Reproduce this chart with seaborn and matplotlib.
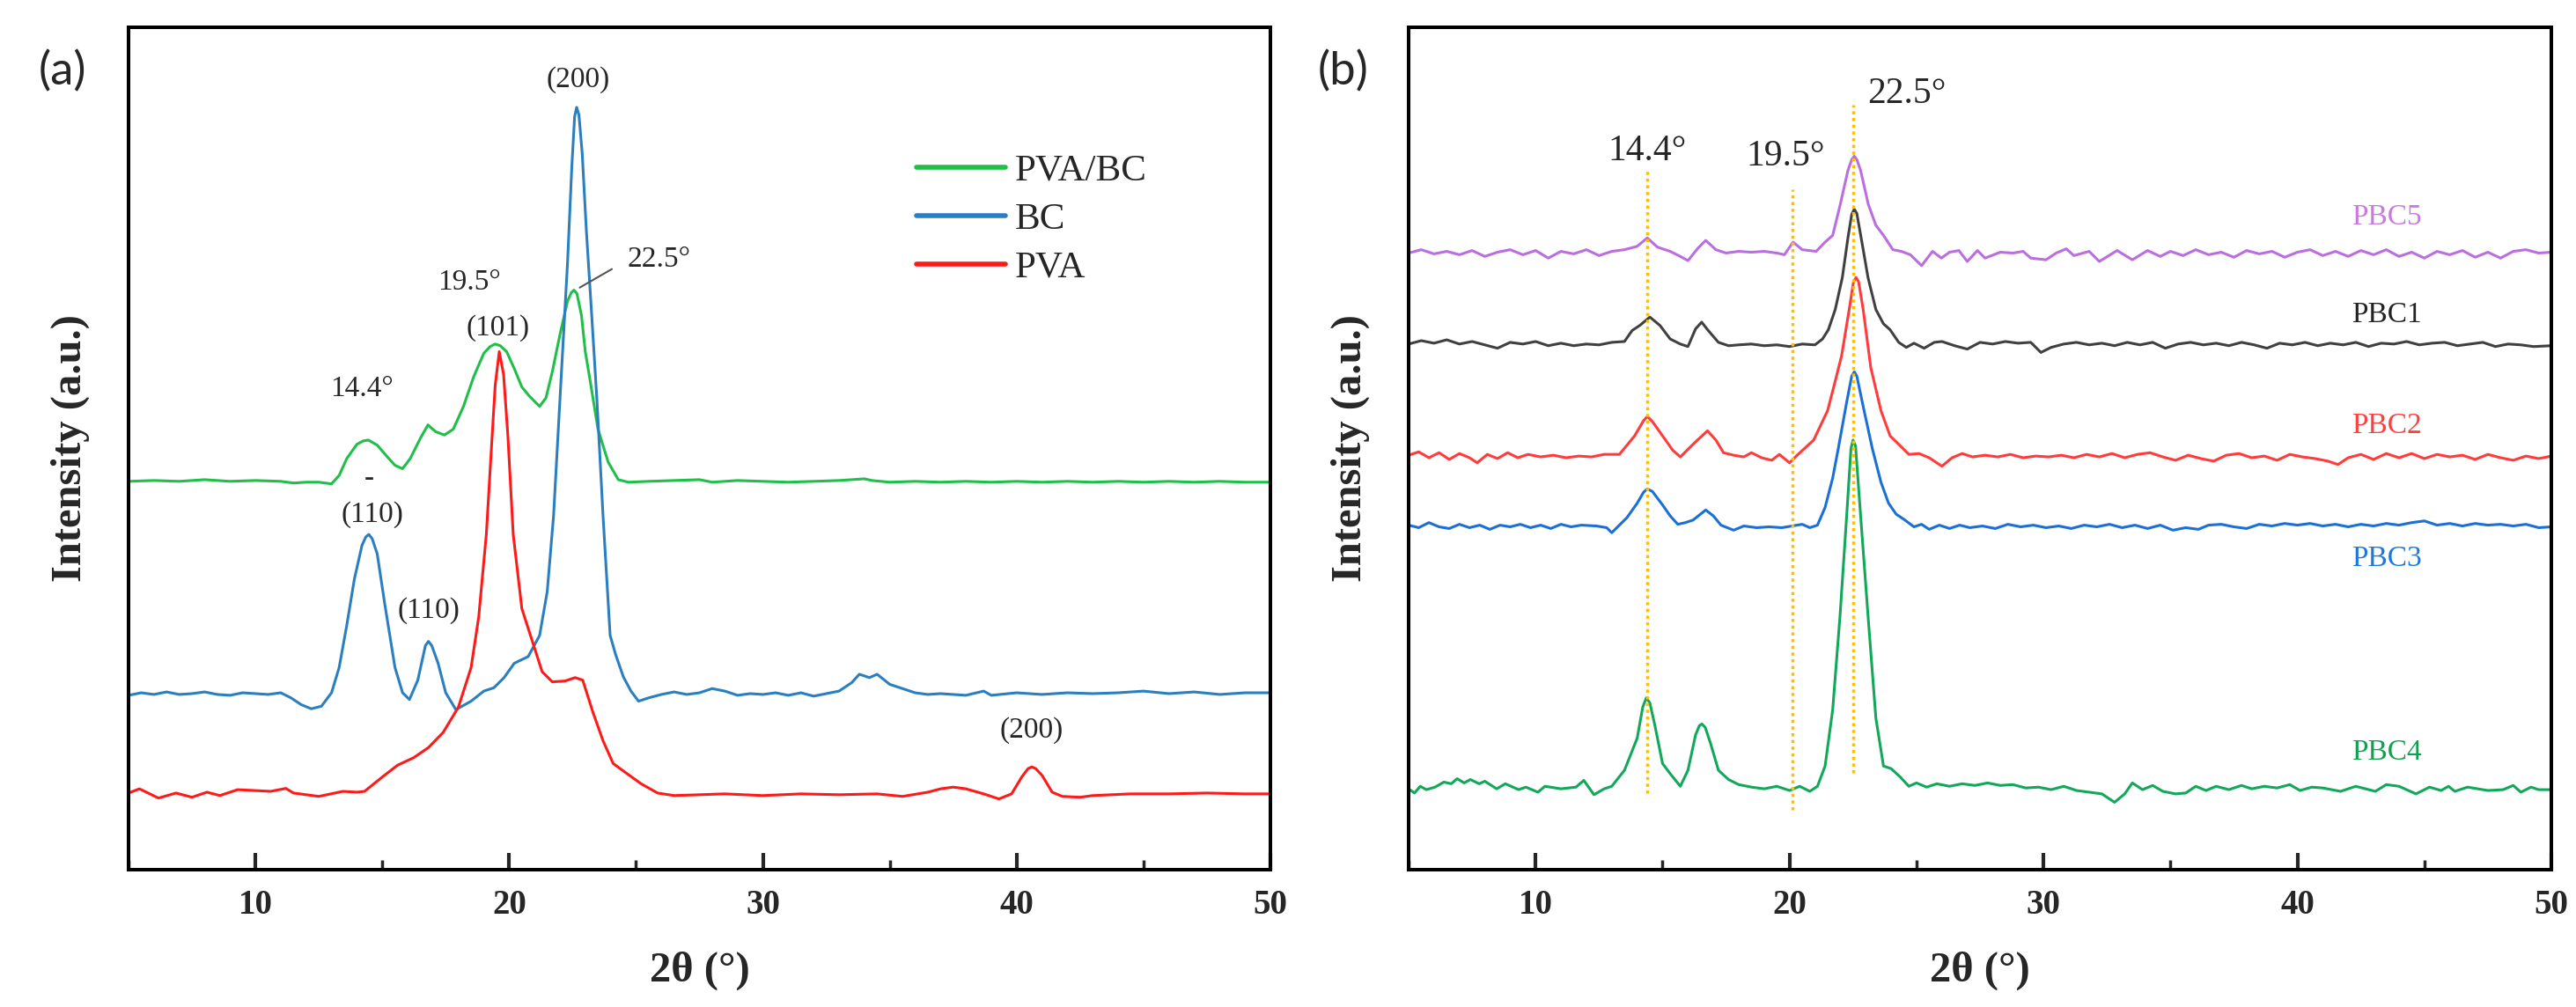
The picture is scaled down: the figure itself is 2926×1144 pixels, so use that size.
import numpy as np
import pandas as pd
import seaborn as sns
import matplotlib.pyplot as plt
from matplotlib.ticker import MultipleLocator

# ---- panel (a) curves: (2theta, intensity in axis units 0-100) ----
pva_bc = [(5.0, 46.1), (6.0, 46.2), (7.0, 46.1), (8.0, 46.3), (8.5, 46.2), (9.0, 46.1),
          (10.0, 46.2), (11.0, 46.1), (11.5, 45.9), (12.0, 46.0), (12.5, 46.0), (13.0, 45.8),
          (13.3, 46.8), (13.6, 48.8), (14.0, 50.5), (14.25, 50.9), (14.45, 51.0), (14.8, 50.4),
          (15.2, 49.0), (15.5, 48.0), (15.8, 47.6), (16.1, 48.8), (16.5, 51.2), (16.8, 52.8),
          (17.1, 52.0), (17.45, 51.6), (17.8, 52.3), (18.2, 55.0), (18.6, 58.5), (19.0, 61.3),
          (19.25, 62.1), (19.45, 62.4), (19.65, 62.2), (19.9, 61.5), (20.2, 59.5), (20.5, 57.3),
          (20.8, 56.2), (21.2, 55.0), (21.45, 56.0), (21.7, 59.1), (22.0, 63.5), (22.3, 67.5),
          (22.45, 68.5), (22.55, 68.8), (22.67, 68.4), (22.85, 65.8), (23.0, 61.5), (23.2, 57.9),
          (23.5, 52.3), (23.9, 48.4), (24.3, 46.3), (24.7, 46.0), (25.5, 46.1), (26.5, 46.2),
          (27.5, 46.3), (28.0, 46.0), (29.0, 46.2), (30.0, 46.1), (31.0, 46.0), (32.0, 46.1),
          (33.0, 46.2), (34.0, 46.4), (34.3, 46.2), (35.0, 46.0), (36.0, 46.1), (37.0, 46.0),
          (38.0, 46.1), (39.0, 46.0), (40.0, 46.1), (41.0, 46.0), (42.0, 46.1), (43.0, 46.0),
          (44.0, 46.1), (45.0, 46.0), (46.0, 46.1), (47.0, 46.0), (48.0, 46.1), (49.0, 46.0),
          (50.0, 46.0)]

bc = [(5.0, 20.7), (5.5, 21.0), (6.0, 20.8), (6.5, 21.1), (7.0, 20.8), (7.5, 20.9), (8.0, 21.1),
      (8.5, 20.8), (9.0, 20.7), (9.5, 21.0), (10.0, 20.9), (10.5, 20.8), (11.0, 21.0),
      (11.4, 20.4), (11.8, 19.6), (12.2, 19.1), (12.6, 19.4), (13.0, 21.0), (13.3, 24.0),
      (13.6, 29.0), (13.9, 34.5), (14.2, 38.5), (14.35, 39.5), (14.47, 39.8), (14.6, 39.3),
      (14.8, 37.5), (15.1, 31.5), (15.5, 24.0), (15.8, 21.0), (16.07, 20.2), (16.4, 22.5),
      (16.7, 26.6), (16.82, 27.1), (16.95, 26.6), (17.2, 24.5), (17.5, 21.0), (17.9, 19.0),
      (18.5, 20.0), (19.0, 21.2), (19.4, 21.6), (19.8, 22.8), (20.2, 24.5), (20.75, 25.3),
      (21.2, 27.8), (21.5, 33.0), (21.75, 42.0), (22.04, 57.9), (22.3, 72.0), (22.47, 83.5),
      (22.58, 89.4), (22.66, 90.5), (22.75, 89.6), (22.88, 85.0), (23.04, 76.0), (23.25, 66.0),
      (23.46, 55.7), (23.7, 42.0), (23.98, 27.8), (24.2, 25.5), (24.5, 22.9), (24.8, 21.2),
      (25.1, 20.0), (25.5, 20.4), (26.0, 20.8), (26.5, 21.1), (27.0, 20.8), (27.5, 21.0),
      (28.0, 21.5), (28.5, 21.2), (29.0, 20.7), (29.5, 20.9), (30.0, 20.8), (30.5, 21.0),
      (31.0, 20.7), (31.5, 21.0), (32.0, 20.6), (32.5, 20.9), (33.0, 21.2), (33.5, 22.2),
      (33.8, 23.2), (34.2, 22.8), (34.5, 23.2), (35.0, 22.0), (35.5, 21.5), (36.0, 21.0),
      (36.5, 20.8), (37.0, 20.9), (38.0, 20.7), (38.7, 21.2), (39.0, 20.7), (40.0, 21.0),
      (41.0, 20.8), (42.0, 21.0), (43.0, 20.9), (44.0, 21.0), (45.0, 21.2), (46.0, 20.9),
      (47.0, 21.1), (48.0, 20.8), (49.0, 21.0), (50.0, 21.0)]

pva = [(5.0, 9.1), (5.43, 9.6), (6.18, 8.5), (6.87, 9.1), (7.5, 8.6), (8.09, 9.2), (8.6, 8.8),
       (9.3, 9.5), (10.6, 9.3), (11.2, 9.65), (11.5, 9.1), (12.5, 8.7), (13.45, 9.3),
       (14.0, 9.2), (14.3, 9.3), (15.0, 11.0), (15.6, 12.4), (16.24, 13.3), (16.82, 14.5),
       (17.4, 16.3), (18.0, 19.3), (18.5, 24.0), (18.8, 30.0), (19.1, 39.8), (19.3, 50.0),
       (19.45, 57.5), (19.61, 61.5), (19.78, 58.8), (19.95, 51.5), (20.16, 39.8), (20.5, 31.0),
       (20.98, 26.5), (21.3, 23.5), (21.7, 22.3), (22.2, 22.4), (22.6, 22.8), (22.9, 22.5),
       (23.3, 18.7), (23.7, 15.3), (24.1, 12.6), (24.6, 11.5), (25.2, 10.2), (25.85, 9.1),
       (26.5, 8.8), (27.5, 8.9), (28.5, 9.0), (30.0, 8.8), (31.5, 9.0), (33.0, 8.9),
       (34.5, 9.0), (35.5, 8.7), (36.5, 9.2), (37.0, 9.6), (37.5, 9.8), (38.0, 9.6),
       (38.7, 9.0), (39.3, 8.4), (39.8, 9.0), (40.2, 11.0), (40.45, 12.0), (40.6, 12.2),
       (40.75, 12.0), (41.0, 11.2), (41.4, 9.2), (41.8, 8.7), (42.5, 8.6), (43.0, 8.8),
       (44.5, 9.0), (46.0, 9.0), (47.5, 9.1), (49.0, 9.0), (50.0, 9.0)]

# ---- panel (b) curves ----
pbc5 = [(5.0, 73.2), (5.5, 73.6), (6.0, 73.1), (6.5, 73.4), (7.0, 73.0), (7.5, 73.5), (8.0, 72.8),
        (8.5, 73.3), (9.0, 73.6), (9.5, 73.0), (10.0, 73.5), (10.5, 72.6), (11.0, 73.4),
        (11.5, 73.1), (12.0, 73.6), (12.5, 72.9), (13.0, 73.4), (13.5, 73.6), (14.0, 74.0),
        (14.4, 75.0), (14.8, 73.9), (15.3, 73.4), (15.7, 72.8), (16.0, 72.3), (16.4, 73.8),
        (16.7, 74.7), (17.1, 73.6), (17.5, 73.2), (18.0, 73.4), (18.5, 73.3), (19.0, 73.4),
        (19.5, 73.2), (19.8, 73.0), (20.14, 74.5), (20.5, 73.6), (21.05, 73.4), (21.4, 74.5),
        (21.7, 75.3), (22.0, 79.0), (22.3, 83.0), (22.45, 84.3), (22.55, 84.7), (22.65, 84.3),
        (22.8, 83.0), (23.1, 79.0), (23.4, 76.5), (23.7, 75.3), (24.07, 73.6), (24.4, 73.4),
        (24.76, 73.0), (25.2, 71.7), (25.63, 73.4), (25.98, 72.6), (26.3, 73.3), (26.67, 73.5),
        (27.0, 72.2), (27.4, 73.5), (27.7, 72.6), (28.3, 73.3), (28.8, 73.2), (29.2, 73.4),
        (29.5, 72.6), (30.1, 72.4), (30.5, 73.2), (30.9, 73.7), (31.2, 72.9), (31.8, 73.4),
        (32.2, 72.2), (32.9, 73.5), (33.5, 72.4), (34.1, 73.5), (34.6, 72.8), (35.0, 73.4),
        (35.5, 72.9), (36.0, 73.6), (36.5, 73.0), (37.0, 73.3), (37.5, 72.7), (38.0, 73.5),
        (38.5, 73.1), (39.0, 73.4), (39.5, 72.7), (40.0, 73.3), (40.5, 73.6), (41.0, 72.9),
        (41.5, 73.4), (42.0, 72.8), (42.5, 73.5), (43.0, 73.0), (43.5, 73.6), (44.0, 72.8),
        (44.5, 73.3), (45.0, 72.6), (45.5, 73.4), (46.0, 73.0), (46.5, 73.5), (47.0, 72.7),
        (47.5, 73.3), (48.0, 72.6), (48.5, 73.4), (49.0, 73.6), (49.5, 73.2), (50.0, 73.3)]

pbc1 = [(5.0, 62.4), (5.5, 62.8), (6.0, 62.5), (6.5, 62.9), (7.0, 62.4), (7.5, 62.7), (8.0, 62.3),
        (8.5, 61.9), (9.0, 62.6), (9.5, 62.4), (10.0, 62.7), (10.5, 62.2), (11.0, 62.5),
        (11.5, 62.2), (12.0, 62.4), (12.5, 62.3), (13.0, 62.6), (13.5, 62.7), (13.8, 64.0),
        (14.1, 64.6), (14.5, 65.6), (14.9, 64.6), (15.3, 63.0), (15.7, 62.4), (16.0, 62.1),
        (16.3, 64.2), (16.54, 65.0), (16.8, 64.0), (17.2, 62.6), (17.6, 62.2), (18.0, 62.3),
        (18.5, 62.4), (19.0, 62.2), (19.5, 62.3), (20.0, 62.1), (20.5, 62.4), (21.0, 62.3),
        (21.3, 63.0), (21.53, 64.1), (21.8, 66.5), (22.08, 70.3), (22.3, 75.0), (22.45, 77.8),
        (22.55, 78.4), (22.65, 77.9), (22.85, 74.5), (23.09, 70.3), (23.4, 66.5), (23.7, 64.8),
        (23.96, 64.1), (24.3, 62.6), (24.6, 62.0), (24.9, 62.5), (25.3, 61.9), (25.7, 62.6),
        (26.0, 62.7), (26.5, 62.2), (27.0, 61.8), (27.5, 62.6), (28.0, 62.4), (28.5, 62.7),
        (29.0, 62.5), (29.5, 62.6), (29.9, 61.4), (30.3, 62.0), (30.8, 62.4), (31.3, 62.6),
        (31.8, 62.3), (32.3, 62.5), (32.8, 62.2), (33.3, 62.6), (33.8, 62.3), (34.3, 62.6),
        (34.8, 61.9), (35.3, 62.4), (35.8, 62.6), (36.3, 62.3), (36.8, 62.5), (37.3, 62.2),
        (37.8, 62.6), (38.3, 62.3), (38.8, 61.9), (39.3, 62.5), (39.8, 62.3), (40.3, 62.6),
        (40.8, 62.2), (41.3, 62.5), (41.8, 62.3), (42.3, 62.6), (42.8, 62.1), (43.3, 62.5),
        (43.8, 62.4), (44.3, 62.7), (44.8, 62.3), (45.3, 62.5), (45.8, 62.6), (46.3, 62.2),
        (46.8, 62.4), (47.3, 62.6), (47.8, 62.1), (48.3, 62.4), (48.8, 62.3), (49.3, 62.1),
        (50.0, 62.2)]

pbc2 = [(5.0, 49.2), (5.4, 49.6), (5.8, 48.9), (6.2, 49.5), (6.6, 48.7), (7.0, 49.4), (7.4, 48.9),
        (7.7, 48.3), (8.1, 49.3), (8.5, 48.8), (8.9, 49.5), (9.3, 48.9), (9.7, 49.3), (10.2, 49.0),
        (10.7, 49.2), (11.2, 48.9), (11.7, 49.1), (12.2, 49.0), (12.7, 49.3), (13.3, 49.3),
        (13.9, 51.5), (14.25, 53.3), (14.4, 53.8), (14.6, 53.2), (15.0, 51.5), (15.4, 49.8),
        (15.7, 49.0), (16.2, 50.5), (16.77, 52.1), (17.1, 51.0), (17.4, 49.5), (17.8, 49.2),
        (18.2, 49.0), (18.5, 49.5), (18.9, 48.9), (19.3, 48.6), (19.6, 49.3), (20.0, 48.3),
        (20.3, 49.2), (20.95, 51.0), (21.5, 54.5), (21.8, 58.0), (22.05, 61.0), (22.35, 66.5),
        (22.52, 69.8), (22.62, 70.3), (22.72, 69.8), (22.9, 66.5), (23.2, 59.6), (23.6, 54.5),
        (23.96, 51.5), (24.3, 50.5), (24.7, 49.3), (25.1, 49.4), (25.5, 48.9), (26.0, 47.9),
        (26.4, 48.9), (26.8, 49.4), (27.2, 49.0), (27.7, 49.2), (28.2, 49.0), (28.7, 49.3),
        (29.2, 48.9), (29.7, 49.1), (30.2, 49.0), (30.7, 49.2), (31.2, 48.9), (31.7, 49.3),
        (32.2, 49.0), (32.7, 49.4), (33.2, 48.9), (33.7, 49.3), (34.2, 49.5), (34.7, 49.0),
        (35.2, 48.6), (35.7, 49.2), (36.2, 48.8), (36.7, 48.5), (37.2, 49.2), (37.7, 49.4),
        (38.2, 48.9), (38.7, 49.1), (39.2, 48.6), (39.7, 49.3), (40.2, 49.0), (40.7, 48.8),
        (41.2, 48.5), (41.6, 48.1), (42.0, 48.9), (42.5, 49.3), (43.0, 48.7), (43.5, 49.4),
        (44.0, 48.9), (44.5, 49.4), (45.0, 48.8), (45.5, 49.3), (46.0, 49.0), (46.5, 49.2),
        (47.0, 48.7), (47.5, 49.3), (48.0, 48.9), (48.5, 48.6), (49.0, 49.1), (49.5, 48.8),
        (50.0, 49.1)]

pbc3 = [(5.0, 40.9), (5.4, 40.6), (5.8, 41.2), (6.2, 40.7), (6.6, 40.5), (7.0, 41.0), (7.4, 40.6),
        (7.8, 40.9), (8.2, 40.4), (8.6, 40.9), (9.0, 40.7), (9.4, 41.0), (9.8, 40.6), (10.2, 40.9),
        (10.6, 40.5), (11.0, 41.0), (11.4, 40.7), (11.8, 40.9), (12.4, 40.8), (12.8, 40.6),
        (13.0, 40.0), (13.3, 40.9), (13.6, 41.8), (14.0, 43.5), (14.25, 44.8), (14.4, 45.2),
        (14.6, 44.9), (15.0, 43.3), (15.3, 42.0), (15.6, 41.0), (15.9, 41.2), (16.2, 41.5),
        (16.7, 42.7), (17.0, 42.0), (17.3, 40.9), (17.8, 40.3), (18.2, 40.8), (18.7, 40.6),
        (19.2, 40.7), (19.7, 40.6), (20.1, 40.8), (20.5, 41.0), (20.8, 40.6), (21.1, 40.9),
        (21.4, 43.0), (21.7, 46.5), (21.92, 50.0), (22.25, 55.5), (22.45, 58.6), (22.55, 59.1),
        (22.65, 58.6), (22.9, 55.0), (23.26, 50.0), (23.6, 46.0), (23.9, 43.5), (24.2, 42.2),
        (24.5, 41.6), (24.9, 40.7), (25.2, 41.0), (25.5, 40.4), (25.9, 40.9), (26.3, 40.5),
        (26.7, 40.9), (27.1, 40.6), (27.6, 40.8), (28.1, 40.5), (28.6, 41.0), (29.1, 40.7),
        (29.6, 40.9), (30.1, 40.6), (30.6, 40.8), (31.1, 40.5), (31.6, 40.9), (32.1, 40.7),
        (32.6, 41.0), (33.1, 40.6), (33.6, 40.9), (34.1, 40.5), (34.6, 40.9), (35.1, 40.3),
        (35.6, 40.6), (36.1, 40.4), (36.5, 40.9), (37.0, 41.0), (37.5, 40.7), (38.0, 40.5),
        (38.5, 41.0), (39.0, 40.8), (39.5, 41.1), (40.0, 40.9), (40.5, 41.1), (41.0, 40.8),
        (41.5, 41.0), (42.0, 40.7), (42.5, 41.0), (43.0, 40.8), (43.5, 41.1), (44.0, 40.9),
        (44.5, 41.2), (45.0, 41.4), (45.5, 40.9), (46.0, 41.1), (46.5, 40.8), (47.0, 41.1),
        (47.5, 40.9), (48.0, 41.0), (48.5, 40.8), (49.0, 41.0), (49.5, 40.6), (50.0, 40.7)]

pbc4 = [(5.0, 9.6), (5.23, 9.1), (5.46, 9.9), (5.7, 9.5), (6.04, 9.8), (6.39, 10.4), (6.68, 10.2),
        (6.91, 10.8), (7.19, 10.3), (7.43, 10.7), (7.78, 10.2), (8.0, 10.5), (8.47, 9.6),
        (8.81, 10.2), (9.33, 9.5), (9.62, 9.8), (10.09, 9.2), (10.37, 9.9), (11.0, 9.6),
        (11.59, 9.8), (11.9, 10.6), (12.3, 8.9), (12.7, 9.6), (13.0, 9.9), (13.5, 11.8),
        (14.0, 15.6), (14.22, 19.3), (14.36, 20.4), (14.5, 19.8), (14.7, 17.1), (15.0, 12.6),
        (15.3, 11.4), (15.7, 9.9), (16.0, 11.8), (16.3, 16.0), (16.45, 17.1), (16.55, 17.3),
        (16.68, 16.9), (16.9, 14.9), (17.2, 11.8), (17.6, 10.7), (18.0, 10.1), (18.5, 9.8),
        (19.0, 9.6), (19.5, 9.9), (20.0, 9.4), (20.4, 9.9), (20.8, 9.3), (21.1, 9.9),
        (21.4, 12.3), (21.7, 19.0), (21.99, 30.2), (22.25, 42.0), (22.42, 50.0), (22.5, 51.0),
        (22.6, 50.3), (22.8, 42.0), (23.09, 30.2), (23.4, 18.0), (23.7, 12.3), (24.0, 12.0),
        (24.36, 11.0), (24.7, 9.9), (25.0, 10.3), (25.4, 9.8), (25.8, 10.2), (26.3, 9.9),
        (26.8, 10.2), (27.3, 10.0), (27.8, 10.3), (28.3, 10.0), (28.8, 10.1), (29.3, 9.7),
        (29.8, 9.8), (30.3, 9.5), (30.8, 9.9), (31.3, 9.4), (31.8, 9.2), (32.3, 9.0),
        (32.8, 8.0), (33.2, 9.0), (33.5, 10.3), (33.9, 9.5), (34.3, 10.0), (34.7, 9.3),
        (35.2, 9.0), (35.6, 9.1), (36.0, 9.9), (36.4, 9.4), (36.8, 9.9), (37.3, 9.5),
        (37.8, 10.0), (38.2, 9.6), (38.7, 9.9), (39.2, 9.7), (39.7, 10.1), (40.1, 9.4),
        (40.57, 9.8), (41.0, 9.7), (41.7, 9.3), (42.3, 9.9), (43.07, 9.3), (43.5, 10.1),
        (44.0, 9.9), (44.67, 9.0), (45.2, 9.8), (45.66, 9.4), (45.95, 9.9), (46.2, 9.3),
        (46.7, 9.8), (47.5, 9.4), (48.1, 9.5), (48.5, 10.0), (48.8, 9.2), (49.2, 9.8),
        (49.5, 9.5), (50.0, 9.5)]

# peak marker lines in (b): position, bottom, top
ref_x = [14.4, 20.1, 22.5]
ref_lo = [9.1, 7.1, 11.5]
ref_hi = [83.0, 80.8, 90.8]

sns.set_theme(style='ticks')
plt.rcParams['font.family'] = ['Liberation Serif', 'DejaVu Serif']

fig = plt.figure(figsize=(29.26, 11.44), dpi=100)
ax_a = fig.add_axes([146 / 2926, 156 / 1144, 1297 / 2926, 957 / 1144])
ax_b = fig.add_axes([1600 / 2926, 156 / 1144, 1298 / 2926, 957 / 1144])


def draw(ax, pts, color, label=None):
    df = pd.DataFrame(pts, columns=['two_theta', 'intensity'])
    sns.lineplot(data=df, x='two_theta', y='intensity', ax=ax, color=color,
                 lw=2.2, sort=False, estimator=None, label=label, legend=False,
                 solid_joinstyle='round')


draw(ax_a, pva_bc, '#1fbf4a', 'PVA/BC')
draw(ax_a, bc, '#2a7fc1', 'BC')
draw(ax_a, pva, '#ff1a1a', 'PVA')

draw(ax_b, pbc5, '#bb6ee0')
draw(ax_b, pbc1, '#404040')
draw(ax_b, pbc2, '#ff3b3b')
draw(ax_b, pbc3, '#1a6fd8')
draw(ax_b, pbc4, '#12a85a')

for xv, lo, hi in zip(ref_x, ref_lo, ref_hi):
    ax_b.plot([xv, xv], [lo, hi], color='#ffbf00', lw=2.5, ls=(0, (1, 1.2)), zorder=3)

for ax in (ax_a, ax_b):
    ax.set_xlim(5, 50)
    ax.set_ylim(0, 100)
    ax.set_yticks([])
    ax.xaxis.set_major_locator(MultipleLocator(10))
    ax.xaxis.set_minor_locator(MultipleLocator(5))
    ax.tick_params(axis='x', which='major', direction='in', length=14, width=3,
                   labelsize=28, pad=16)
    ax.tick_params(axis='x', which='minor', direction='in', length=8, width=2.5)
    for lab in ax.get_xticklabels():
        lab.set_fontweight('bold')
    for sp in ax.spines.values():
        sp.set_linewidth(2.9)
        sp.set_color('black')
    ax.set_xlabel('2θ (°)', fontsize=35, fontweight='bold', labelpad=24)
    ax.set_ylabel('Intensity (a.u.)', fontsize=35, fontweight='bold', labelpad=32)

# panel (a) annotations
fs_a = 24
ax_a.text(22.7, 93.8, '(200)', fontsize=fs_a, ha='center', va='center')
ax_a.text(25.9, 72.4, '22.5°', fontsize=fs_a, ha='center', va='center')
ax_a.plot([22.78, 24.05], [69.1, 71.3], color='#555555', lw=1.5)
ax_a.text(18.44, 69.7, '19.5°', fontsize=fs_a, ha='center', va='center')
ax_a.text(19.54, 64.3, '(101)', fontsize=fs_a, ha='center', va='center')
ax_a.text(14.2, 57.1, '14.4°', fontsize=fs_a, ha='center', va='center')
ax_a.text(14.5, 46.4, '-', fontsize=fs_a, ha='center', va='center')
ax_a.text(14.6, 42.2, '(110)', fontsize=fs_a, ha='center', va='center')
ax_a.text(16.84, 30.8, '(110)', fontsize=fs_a, ha='center', va='center')
ax_a.text(40.6, 16.6, '(200)', fontsize=fs_a, ha='center', va='center')

ax_a.legend(loc='upper left', bbox_to_anchor=(0.69, 0.85), frameon=False,
            fontsize=31, handlelength=2.35, handletextpad=0.25, labelspacing=0.37,
            borderaxespad=0, borderpad=0)
for ln in ax_a.get_legend().get_lines():
    ln.set_linewidth(4)

# panel (b) annotations
fs_b = 30
ax_b.text(14.39, 85.3, '14.4°', fontsize=fs_b, ha='center', va='center')
ax_b.text(19.84, 84.7, '19.5°', fontsize=fs_b, ha='center', va='center')
ax_b.text(24.6, 92.1, '22.5°', fontsize=fs_b, ha='center', va='center')

fs_s = 24
ax_b.text(43.5, 77.5, 'PBC5', fontsize=fs_s, color='#c77be0', ha='center', va='center')
ax_b.text(43.5, 65.9, 'PBC1', fontsize=fs_s, color='#222222', ha='center', va='center')
ax_b.text(43.5, 52.7, 'PBC2', fontsize=fs_s, color='#ff4040', ha='center', va='center')
ax_b.text(43.5, 36.9, 'PBC3', fontsize=fs_s, color='#1a78e0', ha='center', va='center')
ax_b.text(43.5, 13.9, 'PBC4', fontsize=fs_s, color='#10a050', ha='center', va='center')

# panel letters
fig.text(71 / 2926, 1 - 81 / 1144, '(a)', fontsize=38, family='Lato', ha='center', va='center')
fig.text(1526 / 2926, 1 - 81 / 1144, '(b)', fontsize=38, family='Lato', ha='center', va='center')

fig.savefig('out.png', dpi=100)
